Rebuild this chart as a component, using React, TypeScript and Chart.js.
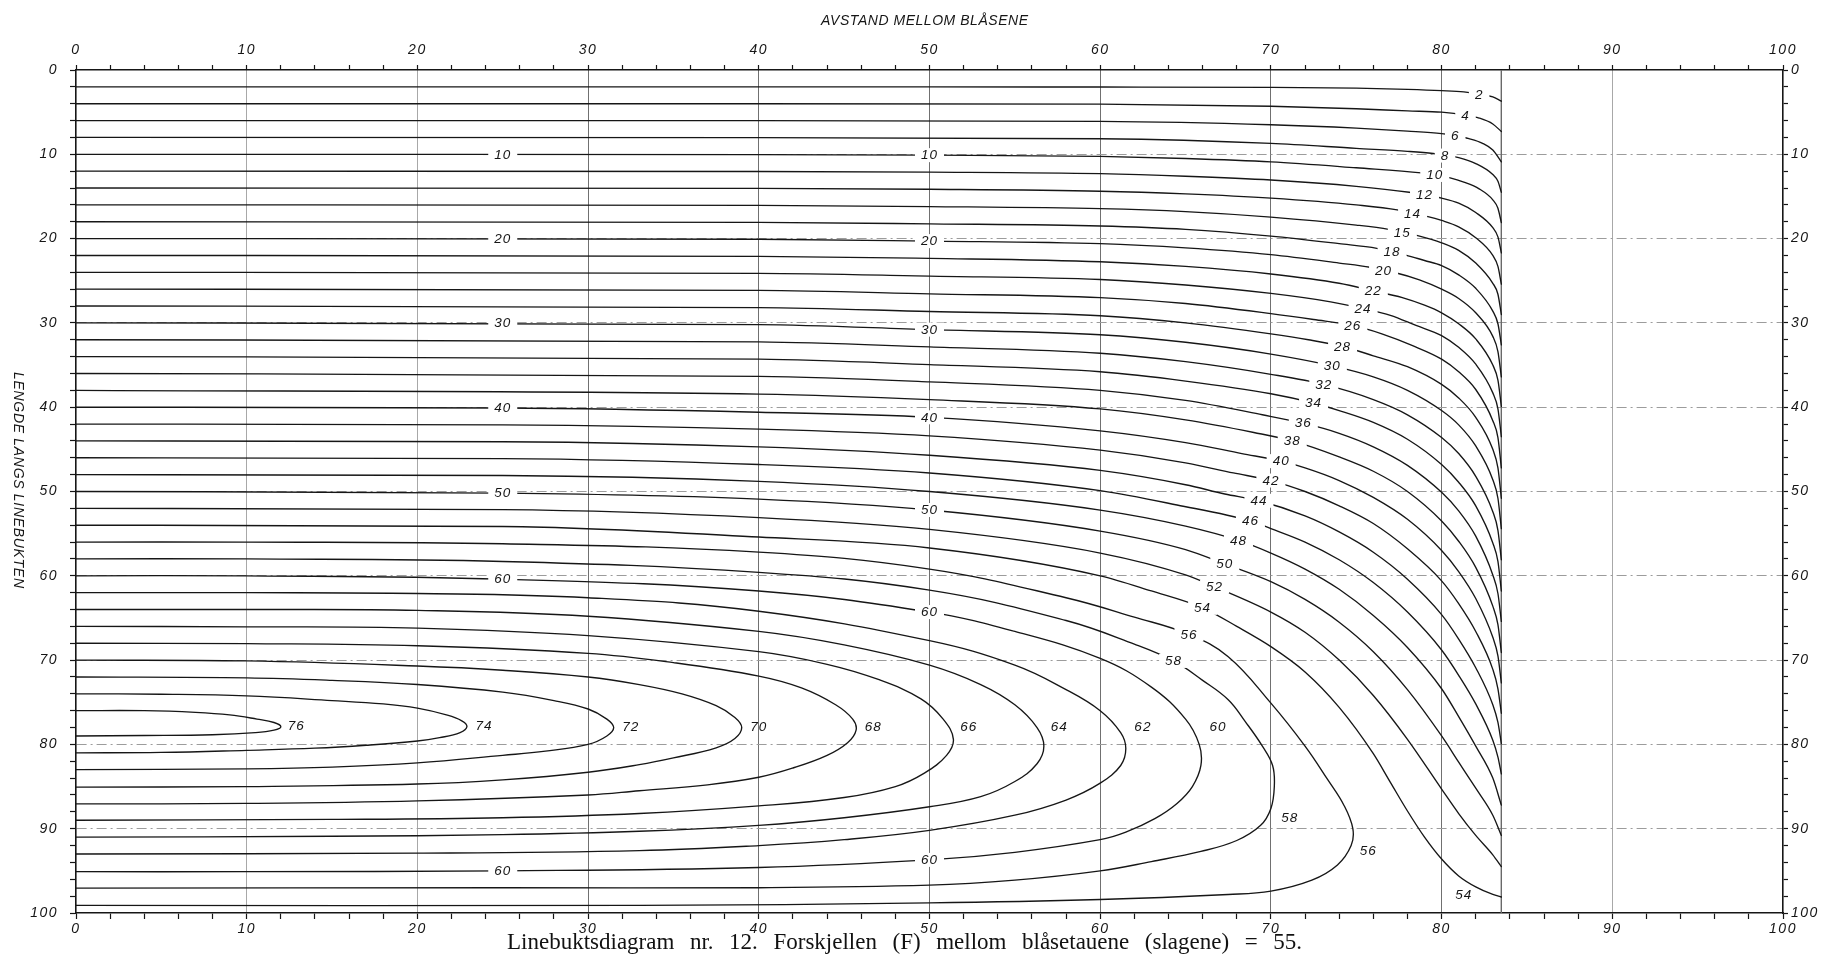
import React, { useEffect, useRef } from 'react';
import { Chart, registerables } from 'chart.js';

Chart.register(...registerables);

type Pt = [number, number];
type TextMark = { text: string; x: number; y: number };

// Axis ranges and tick spacing (both axes run 0..100)
const axisMin = 0;
const axisMax = 100;
const tickStep = 2;
const labelStep = 10;

// Horizontal distance at which the line is stretched straight
const limitDistance = 83.5;

// Contours that end on the limit line (value = depth)
const openLevels = [2, 4, 6, 8, 10, 12, 14, 16, 18, 20, 22, 24, 26, 28, 30, 32, 34, 36, 38, 40, 42, 44, 46, 48, 50, 52, 54];

const openPaths: Pt[][] = [
  [[0, 2], [40, 2.0], [60, 2.02], [70, 2.06], [75, 2.15], [78, 2.3], [80, 2.45], [81.3, 2.6], [82.2, 2.85], [83, 3.2], [83.5, 3.7]],
  [[0, 4], [40, 4.0], [60, 4.05], [70, 4.3], [75, 4.6], [78, 4.85], [80, 5.0], [81.4, 5.35], [82.2, 5.7], [83, 6.4], [83.5, 7.3]],
  [[0, 6], [40, 6.0], [60, 6.1], [70, 6.5], [75, 6.9], [78, 7.25], [80, 7.55], [80.8, 7.8], [81.6, 8.15], [82.4, 8.7], [83, 9.5], [83.5, 10.9]],
  [[0, 8], [40, 8.02], [60, 8.15], [70, 8.7], [75, 9.3], [78, 9.65], [79.5, 9.9], [80.2, 10.1], [81, 10.4], [82, 11.1], [83, 12.4], [83.3, 13.2], [83.5, 14.5]],
  [[0, 10], [40, 10.03], [50, 10.1], [60, 10.25], [65, 10.5], [70, 10.9], [75, 11.6], [78.8, 12.2], [79.6, 12.45], [80.5, 12.8], [81.3, 13.3], [82.2, 14.1], [83, 15.4], [83.3, 16.4], [83.5, 18.1]],
  [[0, 12], [40, 12.04], [50, 12.12], [60, 12.3], [65, 12.6], [70, 13.05], [75, 13.8], [78.1, 14.5], [79, 14.8], [80, 15.2], [81, 15.8], [82, 16.9], [83, 18.7], [83.3, 19.8], [83.5, 21.7]],
  [[0, 14], [40, 14.05], [50, 14.15], [60, 14.38], [65, 14.7], [70, 15.2], [75, 16.0], [77.4, 16.6], [78.3, 17.05], [79.2, 17.4], [80, 17.85], [81, 18.6], [82, 19.9], [83, 22.0], [83.3, 23.3], [83.5, 25.4]],
  [[0, 16], [40, 16.06], [50, 16.2], [60, 16.45], [65, 16.8], [70, 17.45], [75, 18.4], [76.9, 18.9], [77.7, 19.25], [78.6, 19.65], [80, 20.5], [81, 21.4], [82, 22.9], [83, 25.3], [83.3, 26.6], [83.5, 29.0]],
  [[0, 18], [40, 18.07], [50, 18.25], [60, 18.5], [65, 18.9], [70, 19.7], [74, 20.6], [76.2, 21.15], [77.1, 21.6], [77.9, 21.95], [79, 22.6], [80, 23.2], [81, 24.3], [82, 25.9], [83, 28.6], [83.3, 30.1], [83.5, 32.6]],
  [[0, 20], [40, 20.08], [50, 20.3], [60, 20.6], [65, 21.1], [70, 21.9], [74, 22.9], [75.8, 23.4], [76.6, 23.8], [77.3, 24.05], [78.7, 24.9], [80, 26.0], [81, 27.1], [82, 28.8], [83, 31.6], [83.3, 33.4], [83.5, 36.4]],
  [[0, 22], [40, 22.1], [50, 22.35], [60, 22.75], [65, 23.3], [70, 24.2], [74, 25.3], [76, 26.2], [77.7, 27.0], [79, 27.9], [80, 28.8], [81, 30.1], [82, 31.9], [83, 35.0], [83.3, 36.8], [83.5, 39.9]],
  [[0, 24], [40, 24.12], [50, 24.45], [60, 24.85], [65, 25.5], [70, 26.5], [73.5, 27.5], [75.4, 28.3], [77, 29.1], [78.5, 30.3], [80, 31.5], [81, 32.9], [82, 34.9], [83, 38.3], [83.3, 40.2], [83.5, 43.5]],
  [[0, 26], [40, 26.15], [50, 26.55], [60, 27.0], [65, 27.7], [70, 28.9], [72.5, 29.6], [74.8, 30.3], [76.5, 31.3], [78.3, 32.7], [80, 34.3], [81, 35.8], [82, 37.9], [83, 41.6], [83.3, 43.6], [83.5, 47.2]],
  [[0, 28], [40, 28.18], [50, 28.65], [60, 29.15], [65, 30.0], [70, 31.3], [72.2, 32.0], [74.2, 32.8], [76, 33.9], [78, 35.2], [80, 37.3], [81, 38.9], [82, 41.2], [83, 45.0], [83.3, 47.2], [83.5, 50.8]],
  [[0, 30], [40, 30.2], [50, 30.8], [60, 31.4], [65, 32.3], [70, 33.7], [73.6, 35.1], [76, 36.4], [78, 38.0], [80, 40.4], [81, 42.1], [82, 44.6], [83, 48.6], [83.3, 50.8], [83.5, 54.4]],
  [[0, 32], [40, 32.25], [50, 32.85], [60, 33.6], [65, 34.6], [70, 36.1], [73.1, 37.3], [76, 39.1], [78, 40.9], [80, 43.6], [81, 45.5], [82, 48.2], [83, 52.4], [83.3, 54.6], [83.5, 58.1]],
  [[0, 34], [40, 34.3], [50, 34.95], [60, 35.8], [65, 36.9], [70, 38.4], [72.5, 39.5], [74, 40.4], [76, 41.8], [78, 43.8], [80, 46.8], [81, 48.9], [82, 51.7], [83, 56.1], [83.3, 58.3], [83.5, 61.8]],
  [[0, 36], [40, 36.35], [50, 37.0], [60, 38.0], [65, 39.2], [69.5, 40.9], [71.9, 41.9], [74, 43.1], [76, 44.7], [78, 46.9], [80, 50.1], [81, 52.3], [82, 55.3], [83, 59.9], [83.3, 62.1], [83.5, 65.4]],
  [[0, 38], [40, 38.45], [50, 39.1], [60, 40.2], [65, 41.5], [69, 43.0], [71.25, 44.0], [74, 45.9], [76, 47.6], [78, 50.0], [80, 53.5], [81, 55.9], [82, 59.0], [83, 63.6], [83.3, 65.8], [83.5, 69.1]],
  [[0, 40], [25, 40.1], [40, 40.6], [50, 41.2], [60, 42.8], [65, 44.2], [68.3, 45.5], [70.6, 46.4], [72, 47.2], [74, 48.7], [76, 50.7], [78, 53.3], [80, 57.0], [81, 59.5], [82, 62.7], [83, 67.3], [83.3, 69.5], [83.5, 72.7]],
  [[0, 42], [25, 42.1], [40, 42.6], [50, 43.4], [60, 45.1], [65, 46.6], [67.8, 47.8], [70, 48.7], [72, 50.0], [74, 51.7], [76, 53.8], [78, 56.8], [80, 60.6], [81, 63.3], [82, 66.6], [83, 71.1], [83.3, 73.4], [83.5, 76.3]],
  [[0, 44], [25, 44.1], [40, 44.7], [50, 45.7], [60, 47.5], [65, 49.2], [67.3, 50.3], [69.3, 51.1], [72, 52.9], [74, 54.8], [76, 57.2], [78, 60.4], [80, 64.6], [81, 67.5], [82, 70.9], [83, 75.3], [83.3, 77.4], [83.5, 79.9]],
  [[0, 46], [25, 46.1], [40, 46.8], [50, 47.8], [60, 49.9], [64.5, 51.6], [68.8, 53.5], [70, 54.4], [72, 56.0], [74, 58.1], [76, 60.8], [78, 64.3], [80, 68.8], [81, 71.8], [82, 75.2], [83, 79.5], [83.3, 81.5], [83.5, 83.5]],
  [[0, 48], [25, 48.1], [40, 48.8], [50, 50.0], [60, 52.2], [65, 54.1], [68.1, 55.8], [70, 57.3], [72, 59.2], [74, 61.6], [76, 64.7], [78, 68.5], [80, 73.4], [81, 76.7], [82, 80.2], [83, 84.0], [83.5, 87.2]],
  [[0, 50], [25, 50.2], [40, 50.9], [50, 52.2], [60, 54.7], [65, 56.9], [67.3, 58.6], [70, 60.7], [72, 62.8], [74, 65.5], [76, 69.0], [78, 73.5], [80, 79.0], [81, 82.1], [82, 85.2], [83, 88.4], [83.5, 90.8]],
  [[0, 52], [25, 52.15], [40, 53.1], [50, 54.5], [60, 57.3], [65, 59.9], [66.7, 61.3], [70, 64.3], [72, 66.7], [74, 70.0], [76, 74.2], [78, 79.4], [80, 85.3], [81, 88.2], [82, 90.8], [83, 93.1], [83.5, 94.5]],
  [[0, 54], [25, 54.15], [40, 55.4], [50, 56.7], [60, 60.0], [63, 61.8], [66, 63.8], [68, 66.0], [70, 68.4], [72, 71.4], [74, 75.6], [76, 81.1], [77, 84.5], [78, 87.9], [79, 91.0], [80, 93.6], [81, 95.6], [82, 96.9], [83, 97.8], [83.5, 98.1]],
];

// Contours that turn back to the left edge (closed against x = 0)
const loopLevels = [56, 58, 60, 62, 64, 66, 68, 70, 72, 74, 76];

const loopPaths: Pt[][] = [
  [[0, 56], [10, 56.0], [25, 56.2], [40, 57.2], [50, 59.2], [58, 62.6], [62, 64.9], [65.2, 66.95], [67.5, 69.6], [70, 75.1], [72, 80.2], [73.3, 84.1], [74.3, 87.3], [74.8, 90.0], [74.7, 92.0], [73.9, 94.3], [72.4, 96.1], [70, 97.4], [67.5, 97.8], [60, 98.4], [50, 98.8], [33, 99.1], [0, 99.1]],
  [[0, 58], [10, 58.0], [25, 58.3], [40, 59.6], [50, 61.7], [58, 65.3], [62, 68.1], [64.3, 70.1], [66, 72.4], [67.5, 74.7], [68.5, 77.3], [69.5, 80.2], [70.1, 82.5], [70.2, 85.0], [70.0, 87.6], [69.4, 89.6], [68, 91.4], [65.9, 92.7], [63, 93.9], [60, 95.0], [55, 96.1], [50, 96.7], [40, 97.0], [25, 97.0], [0, 97.05]],
  [[0, 60], [10, 60.0], [25, 60.4], [40, 61.8], [50, 64.3], [55, 66.6], [60, 69.8], [63, 73.2], [65, 77.0], [65.8, 80.0], [65.9, 82.5], [65.4, 85.0], [64.5, 87.0], [63.2, 88.8], [61.5, 90.4], [60, 91.3], [55, 92.8], [50, 93.7], [40, 94.6], [25, 95.0], [10, 95.1], [0, 95.1]],
  [[0, 62], [10, 62.0], [20, 62.1], [30, 62.6], [40, 64.2], [50, 67.7], [55, 70.6], [58, 73.5], [60, 76.0], [61.2, 78.6], [61.5, 80.5], [61.2, 82.5], [60, 84.6], [58, 86.6], [55, 88.4], [50, 90.2], [45, 91.3], [40, 92.0], [33, 92.6], [20, 92.9], [0, 93.0]],
  [[0, 64], [10, 64.0], [20, 64.1], [30, 64.8], [40, 66.6], [45, 68.2], [50, 70.6], [53, 72.9], [55, 75.3], [56.3, 78.0], [56.7, 80.2], [56.3, 82.3], [55, 84.4], [53, 86.2], [50, 87.4], [45, 88.7], [40, 89.6], [33, 90.3], [25, 90.7], [15, 90.9], [0, 91.0]],
  [[0, 66], [10, 66.05], [20, 66.2], [30, 67.1], [40, 69.0], [44, 70.5], [47, 72.3], [49.5, 74.6], [50.8, 77.0], [51.4, 79.4], [51.0, 81.3], [49.7, 83.4], [48, 85.0], [45, 86.3], [40, 87.3], [33, 88.2], [25, 88.7], [15, 88.9], [0, 89.0]],
  [[0, 68], [10, 68.05], [20, 68.3], [30, 69.2], [35, 70.3], [40, 71.9], [42.5, 73.3], [44.5, 75.3], [45.5, 77.0], [45.7, 78.3], [45.2, 79.8], [44, 81.3], [42, 82.8], [40, 83.9], [37, 84.8], [33, 85.5], [30, 86.0], [20, 86.7], [10, 87.0], [0, 87.06]],
  [[0, 70], [10, 70.1], [20, 70.7], [25, 71.2], [30, 72.0], [33, 72.9], [35.5, 74.0], [37.5, 75.4], [38.6, 76.8], [39.0, 78.0], [38.6, 79.3], [37.5, 80.4], [35, 81.6], [33, 82.4], [30, 83.3], [25, 84.2], [20, 84.7], [10, 85.0], [0, 85.07]],
  [[0, 72], [10, 72.1], [15, 72.4], [20, 72.9], [25, 73.8], [28, 74.8], [30, 75.8], [31.1, 77.0], [31.5, 78.0], [31.1, 79.0], [30, 80.0], [27.5, 80.8], [25, 81.3], [20, 82.2], [15, 82.7], [10, 82.9], [0, 83.0]],
  [[0, 74], [5, 74.05], [10, 74.25], [15, 74.8], [18, 75.2], [20, 75.7], [21.7, 76.5], [22.6, 77.2], [22.9, 77.9], [22.5, 78.6], [21.3, 79.2], [20, 79.6], [17, 80.1], [14, 80.45], [10, 80.7], [5, 80.95], [0, 81.0]],
  [[0, 76], [4, 76.0], [7, 76.2], [9, 76.5], [10.6, 77.0], [11.6, 77.4], [12.0, 77.9], [11.6, 78.3], [10.5, 78.6], [8, 78.85], [4, 78.95], [0, 79.0]],
];

// Labels written into a gap of their contour
const onLineLabels: TextMark[] = [
  { text: '2', x: 82.2, y: 2.9 }, { text: '4', x: 81.4, y: 5.4 }, { text: '6', x: 80.8, y: 7.85 },
  { text: '8', x: 80.2, y: 10.15 }, { text: '10', x: 79.6, y: 12.45 }, { text: '12', x: 79.0, y: 14.8 },
  { text: '14', x: 78.3, y: 17.05 }, { text: '15', x: 77.7, y: 19.25 }, { text: '18', x: 77.1, y: 21.6 },
  { text: '20', x: 76.6, y: 23.8 }, { text: '22', x: 76.0, y: 26.2 }, { text: '24', x: 75.4, y: 28.3 },
  { text: '26', x: 74.8, y: 30.3 }, { text: '28', x: 74.2, y: 32.8 }, { text: '30', x: 73.6, y: 35.1 },
  { text: '32', x: 73.1, y: 37.3 }, { text: '34', x: 72.5, y: 39.5 }, { text: '36', x: 71.9, y: 41.9 },
  { text: '38', x: 71.25, y: 44.0 }, { text: '40', x: 70.6, y: 46.4 }, { text: '42', x: 70.0, y: 48.7 },
  { text: '44', x: 69.3, y: 51.1 }, { text: '46', x: 68.8, y: 53.5 }, { text: '48', x: 68.1, y: 55.8 },
  { text: '50', x: 67.3, y: 58.6 }, { text: '52', x: 66.7, y: 61.3 }, { text: '54', x: 66.0, y: 63.8 },
  { text: '56', x: 65.2, y: 66.95 }, { text: '58', x: 64.3, y: 70.1 },
  { text: '10', x: 25, y: 10.0 }, { text: '20', x: 25, y: 20.0 }, { text: '30', x: 25, y: 30.0 },
  { text: '40', x: 25, y: 40.1 }, { text: '50', x: 25, y: 50.2 }, { text: '60', x: 25, y: 60.4 },
  { text: '10', x: 50, y: 10.1 }, { text: '20', x: 50, y: 20.3 }, { text: '30', x: 50, y: 30.8 },
  { text: '40', x: 50, y: 41.2 }, { text: '50', x: 50, y: 52.2 }, { text: '60', x: 50, y: 64.3 },
  { text: '60', x: 25, y: 95.0 }, { text: '60', x: 50, y: 93.7 },
];

// Labels set beside a contour (loop tips and lower curves)
const besideLabels: TextMark[] = [
  { text: '76', x: 12.9, y: 77.8 }, { text: '74', x: 23.9, y: 77.8 }, { text: '72', x: 32.5, y: 77.9 },
  { text: '70', x: 40.0, y: 77.9 }, { text: '68', x: 46.7, y: 77.9 }, { text: '66', x: 52.3, y: 77.9 },
  { text: '64', x: 57.6, y: 77.9 }, { text: '62', x: 62.5, y: 77.9 }, { text: '60', x: 66.9, y: 77.9 },
  { text: '58', x: 71.1, y: 88.7 }, { text: '56', x: 75.7, y: 92.6 }, { text: '54', x: 81.3, y: 97.8 },
];

const topTitle = 'AVSTAND MELLOM BLÅSENE';
const sideTitle = 'LENGDE LANGS LINEBUKTEN';
const caption = 'Linebuktsdiagram nr. 12. Forskjellen (F) mellom blåsetauene (slagene) = 55.';

const CANVAS_W = 1831;
const CANVAS_H = 979;
const AREA = { left: 76, right: 1783, top: 70, bottom: 913 };

const ink = '#161616';
const sansFamily = '"Liberation Sans", Arial, sans-serif';
const labelFont = `italic 13.5px ${sansFamily}`;

const toXY = (p: Pt[]) => p.map(([x, y]) => ({ x, y }));

const tickText = (v: number | string) => (Number(v) % labelStep === 0 ? String(v) : '');

const xGridColor = (c: any) => {
  const v = c.tick ? c.tick.value : -1;
  if (v <= axisMin || v >= axisMax || v % labelStep !== 0) return 'rgba(0,0,0,0)';
  return v === 10 || v === 20 || v === 90 ? '#a8a8a8' : '#707070';
};

const yGridColor = (c: any) => {
  const v = c.tick ? c.tick.value : -1;
  if (v <= axisMin || v >= axisMax || v % labelStep !== 0) return 'rgba(0,0,0,0)';
  return '#9c9c9c';
};

function drawSpaced(
  ctx: CanvasRenderingContext2D,
  text: string,
  cx: number,
  cy: number,
  width: number,
  font: string,
  rotate: boolean,
) {
  const c = ctx as any;
  ctx.save();
  ctx.font = font;
  c.letterSpacing = '0px';
  const w0 = ctx.measureText(text).width;
  const ls = (width - w0) / Math.max(1, text.length - 1);
  c.letterSpacing = `${ls}px`;
  ctx.translate(cx, cy);
  if (rotate) ctx.rotate(Math.PI / 2);
  ctx.textAlign = 'left';
  ctx.textBaseline = 'middle';
  ctx.fillStyle = ink;
  ctx.fillText(text, -width / 2, 0);
  ctx.restore();
}

const textPlugin = {
  id: 'contourText',
  beforeDraw(chart: any) {
    (chart.ctx as any).letterSpacing = '1.5px';
  },
  afterDatasetsDraw(chart: any) {
    const ctx: CanvasRenderingContext2D = chart.ctx;
    const xs = chart.scales.x;
    const ys = chart.scales.y;
    ctx.save();
    ctx.font = labelFont;
    (ctx as any).letterSpacing = '1px';
    ctx.textAlign = 'left';
    ctx.textBaseline = 'middle';
    for (const l of onLineLabels) {
      const px = xs.getPixelForValue(l.x);
      const py = ys.getPixelForValue(l.y);
      const w = ctx.measureText(l.text).width;
      ctx.fillStyle = '#ffffff';
      ctx.fillRect(px - w / 2 - 6, py - 7, w + 12, 14);
      ctx.fillStyle = ink;
      ctx.fillText(l.text, px - w / 2, py + 0.5);
    }
    for (const l of besideLabels) {
      const px = xs.getPixelForValue(l.x);
      const py = ys.getPixelForValue(l.y);
      const w = ctx.measureText(l.text).width;
      ctx.fillStyle = ink;
      ctx.fillText(l.text, px - w / 2, py + 0.5);
    }
    ctx.restore();
  },
  afterDraw(chart: any) {
    const ctx: CanvasRenderingContext2D = chart.ctx;
    const ca = chart.chartArea;
    const midX = (ca.left + ca.right) / 2;
    drawSpaced(ctx, topTitle, midX - 5, 21, 207, `italic 14px ${sansFamily}`, false);
    drawSpaced(ctx, sideTitle, 18, 480, 216, `italic 14px ${sansFamily}`, true);

    // caption, justified to its printed width
    const c = ctx as any;
    ctx.save();
    ctx.font = '23px "Liberation Serif", "Times New Roman", serif';
    c.letterSpacing = '0px';
    c.wordSpacing = '0px';
    const w0 = ctx.measureText(caption).width;
    const spaces = caption.split(' ').length - 1;
    const left = 507;
    const target = 795;
    c.wordSpacing = `${Math.max(0, (target - w0) / spaces)}px`;
    ctx.textAlign = 'left';
    ctx.textBaseline = 'middle';
    ctx.fillStyle = '#111';
    ctx.fillText(caption, left, 943);
    ctx.restore();
    c.letterSpacing = '0px';
  },
};

const tickFont = { family: sansFamily, size: 14, style: 'italic' as const };

function baseTicks(padding: number) {
  return {
    stepSize: tickStep,
    maxTicksLimit: 60,
    autoSkip: false,
    maxRotation: 0,
    minRotation: 0,
    callback: tickText,
    font: tickFont,
    color: ink,
    padding,
  };
}

export default function App() {
  const canvasRef = useRef<HTMLCanvasElement | null>(null);

  useEffect(() => {
    const canvas = canvasRef.current;
    if (!canvas) return;

    const contourSets = [
      ...openPaths.map((p, i) => ({
        label: `F ${openLevels[i]}`,
        data: toXY(p),
        showLine: true,
        borderColor: ink,
        borderWidth: 1.35,
        pointRadius: 0,
        cubicInterpolationMode: 'monotone' as const,
      })),
      ...loopPaths.map((p, i) => ({
        label: `F ${loopLevels[i]}`,
        data: toXY(p),
        showLine: true,
        borderColor: ink,
        borderWidth: 1.35,
        pointRadius: 0,
        tension: 0.4,
      })),
      {
        label: 'limit',
        data: [{ x: limitDistance, y: axisMin }, { x: limitDistance, y: axisMax }],
        showLine: true,
        borderColor: '#6a6a6a',
        borderWidth: 1,
        pointRadius: 0,
      },
    ];

    const chart = new Chart(canvas, {
      type: 'scatter',
      data: { datasets: contourSets as any },
      options: {
        responsive: false,
        animation: false,
        devicePixelRatio: 1,
        events: [],
        layout: { padding: 0 },
        elements: {
          line: { borderCapStyle: 'round', borderJoinStyle: 'round' },
          point: { radius: 0, hoverRadius: 0 },
        },
        plugins: {
          legend: { display: false },
          tooltip: { enabled: false },
          title: { display: false },
        },
        scales: {
          x: {
            type: 'linear',
            position: 'bottom',
            min: axisMin,
            max: axisMax,
            ticks: baseTicks(2) as any,
            grid: { color: xGridColor, lineWidth: 1, tickColor: ink, tickLength: 6, tickWidth: 1.2 },
            border: { color: ink, width: 1.6 },
            afterFit: (s: any) => { s.height = CANVAS_H - AREA.bottom; },
          },
          x2: {
            type: 'linear',
            position: 'top',
            min: axisMin,
            max: axisMax,
            ticks: baseTicks(6) as any,
            grid: { drawOnChartArea: false, tickColor: ink, tickLength: 5, tickWidth: 1.2 },
            border: { color: ink, width: 1.6 },
            afterFit: (s: any) => { s.height = AREA.top; },
          },
          y: {
            type: 'linear',
            position: 'left',
            reverse: true,
            min: axisMin,
            max: axisMax,
            ticks: baseTicks(12) as any,
            grid: { color: yGridColor, lineWidth: 1, tickColor: ink, tickLength: 6, tickWidth: 1.2 },
            border: { color: ink, width: 1.6, dash: [10, 4, 2, 4] },
            afterFit: (s: any) => { s.width = AREA.left; },
          },
          y2: {
            type: 'linear',
            position: 'right',
            reverse: true,
            min: axisMin,
            max: axisMax,
            ticks: baseTicks(3) as any,
            grid: { drawOnChartArea: false, tickColor: ink, tickLength: 5, tickWidth: 1.2 },
            border: { color: ink, width: 1.6 },
            afterFit: (s: any) => { s.width = CANVAS_W - AREA.right; },
          },
        },
      } as any,
      plugins: [textPlugin as any],
    });

    return () => chart.destroy();
  }, []);

  return (
    <div style={{ position: 'fixed', left: 0, top: 0, width: CANVAS_W, height: CANVAS_H, background: '#ffffff' }}>
      <canvas
        ref={canvasRef}
        width={CANVAS_W}
        height={CANVAS_H}
        style={{ display: 'block', width: CANVAS_W, height: CANVAS_H }}
      />
    </div>
  );
}
